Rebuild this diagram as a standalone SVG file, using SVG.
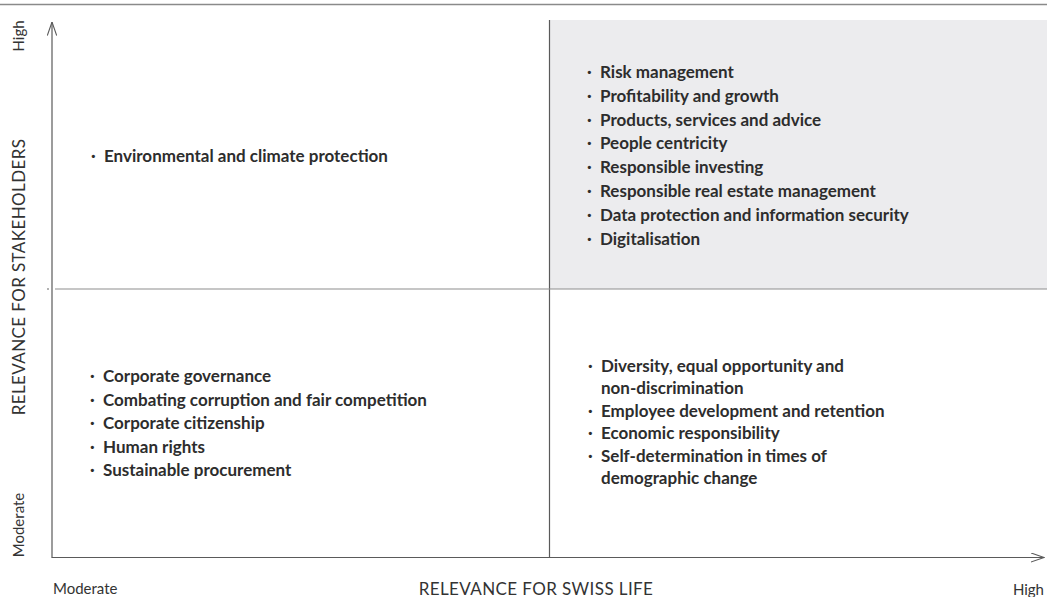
<svg xmlns="http://www.w3.org/2000/svg" width="1047" height="597" viewBox="0 0 1047 597">
  <style>
    .item { font-family: Lato, "Open Sans", sans-serif; font-weight: bold; font-size: 17px; fill: #2d2d2d; }
    .axis { font-family: Lato, "Open Sans", sans-serif; font-size: 15px; fill: #333333; }
    .caps { font-size: 17px; letter-spacing: 0.4px; }
    .line { stroke: #5a5a5a; stroke-width: 1.2; fill: none; }
  </style>
  <defs>
    <marker id="arrowOpen" viewBox="0 0 14 10" refX="13.5" refY="5" markerWidth="14" markerHeight="10" markerUnits="userSpaceOnUse" orient="auto">
      <path d="M0,0.3 L13.5,5 L0,9.7" fill="none" stroke="#5a5a5a" stroke-width="1.1"/>
    </marker>
  </defs>
  <rect width="1047" height="597" fill="#ffffff"/>
  <line x1="0" y1="4.5" x2="1047" y2="4.5" stroke="#8a8a8a" stroke-width="1.6"/>

  <g id="quadrant-high-high">
    <rect x="549" y="20" width="498" height="269" fill="#ececee"/>
  </g>

  <g id="connectors">
    <line class="line" x1="549.5" y1="20" x2="549.5" y2="557"/>
    <line x1="55" y1="289" x2="1047" y2="289" stroke="#8e8e8e" stroke-width="1.2"/>
    <line x1="47" y1="289" x2="49" y2="289" stroke="#666666" stroke-width="1.2"/>
    <line class="line" x1="52" y1="557.5" x2="52" y2="22" marker-end="url(#arrowOpen)"/>
    <line class="line" x1="51.5" y1="557.5" x2="1044" y2="557.5" marker-end="url(#arrowOpen)"/>
  </g>

  <g id="axis-labels">
    <text class="axis" transform="translate(24,36) rotate(-90)" text-anchor="middle">High</text>
    <text class="axis caps" transform="translate(24.5,277) rotate(-90)" text-anchor="middle">RELEVANCE FOR STAKEHOLDERS</text>
    <text class="axis" transform="translate(24,525) rotate(-90)" text-anchor="middle">Moderate</text>
    <text class="axis" x="53" y="594">Moderate</text>
    <text class="axis caps" x="536" y="595" text-anchor="middle">RELEVANCE FOR SWISS LIFE</text>
    <text class="axis" x="1044" y="594.5" text-anchor="end">High</text>
  </g>

  <g id="top-left">
    <text class="item" x="91" y="162">·</text>
    <text class="item" x="104" y="162">Environmental and climate protection</text>
  </g>

  <g id="top-right">
    <text class="item" x="587" y="78">·</text><text class="item" x="600" y="78">Risk management</text>
    <text class="item" x="587" y="101.8">·</text><text class="item" x="600" y="101.8">Profitability and growth</text>
    <text class="item" x="587" y="125.6">·</text><text class="item" x="600" y="125.6">Products, services and advice</text>
    <text class="item" x="587" y="149.4">·</text><text class="item" x="600" y="149.4">People centricity</text>
    <text class="item" x="587" y="173.2">·</text><text class="item" x="600" y="173.2">Responsible investing</text>
    <text class="item" x="587" y="197">·</text><text class="item" x="600" y="197">Responsible real estate management</text>
    <text class="item" x="587" y="220.8">·</text><text class="item" x="600" y="220.8">Data protection and information security</text>
    <text class="item" x="587" y="244.6">·</text><text class="item" x="600" y="244.6">Digitalisation</text>
  </g>

  <g id="bottom-left">
    <text class="item" x="90" y="382">·</text><text class="item" x="103" y="382">Corporate governance</text>
    <text class="item" x="90" y="405.5">·</text><text class="item" x="103" y="405.5">Combating corruption and fair competition</text>
    <text class="item" x="90" y="429">·</text><text class="item" x="103" y="429">Corporate citizenship</text>
    <text class="item" x="90" y="452.5">·</text><text class="item" x="103" y="452.5">Human rights</text>
    <text class="item" x="90" y="476">·</text><text class="item" x="103" y="476">Sustainable procurement</text>
  </g>

  <g id="bottom-right">
    <text class="item" x="588" y="372">·</text><text class="item" x="601" y="372">Diversity, equal opportunity and</text>
    <text class="item" x="601" y="394.4">non-discrimination</text>
    <text class="item" x="588" y="416.8">·</text><text class="item" x="601" y="416.8">Employee development and retention</text>
    <text class="item" x="588" y="439.2">·</text><text class="item" x="601" y="439.2">Economic responsibility</text>
    <text class="item" x="588" y="461.6">·</text><text class="item" x="601" y="461.6">Self-determination in times of</text>
    <text class="item" x="601" y="484">demographic change</text>
  </g>
</svg>
